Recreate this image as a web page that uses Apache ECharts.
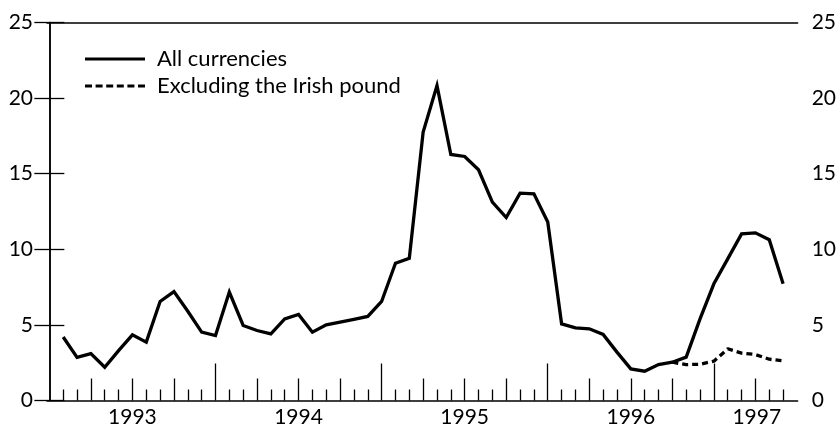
<!DOCTYPE html>
<html>
<head>
<meta charset="utf-8">
<script src="https://cdn.jsdelivr.net/npm/echarts@6/dist/echarts.min.js"></script>
<style>html,body{margin:0;padding:0;background:#fff}#c{width:839px;height:429px}</style>
</head>
<body>
<div id="c"></div>
<script>
// Month index 1 = first monthly observation (early 1993), month 53 = last (mid 1997)
var monthStart = 1;
var allCurrencies = [4.2, 2.85, 3.1, 2.2, 3.3, 4.34, 3.86, 6.55, 7.2, 5.9, 4.52, 4.3,
  7.17, 4.96, 4.63, 4.41, 5.4, 5.69, 4.52, 5.0, 5.18, 5.36, 5.56, 6.55,
  9.08, 9.41, 17.75, 20.83, 16.27, 16.14, 15.26, 13.12, 12.1, 13.71, 13.67, 11.8,
  5.07, 4.81, 4.74, 4.37, 3.2, 2.09, 1.94, 2.38, 2.53, 2.87, 5.4, 7.72,
  9.37, 11.02, 11.09, 10.63, 7.72];
var exclStart = 45;
var excludingIrish = [2.53, 2.37, 2.4, 2.6, 3.42, 3.13, 3.04, 2.73, 2.62];
var yearLabels = ['1993', '1994', '1995', '1996', '1997'];
var yearLabelPositions = [6, 18, 30, 42, 51.1];

function toPairs(start, arr) {
  return arr.map(function (v, i) { return [start + i, v]; });
}
var monthTicks = [], quarterTicks = [], yearTicks = [];
for (var m = 1; m <= 53; m++) {
  if (m % 12 === 0) yearTicks.push(m);
  else if (m % 3 === 0) quarterTicks.push(m);
  else monthTicks.push(m);
}
var FONT = 'Lato';
var XMIN = -0.17, XMAX = 54.05;
function xAx(ticks, len, extra) {
  var a = {
    type: 'value', min: XMIN, max: XMAX, position: 'bottom', gridIndex: 0,
    splitLine: { show: false },
    axisLine: { show: false, onZero: false },
    axisTick: { show: true, inside: true, length: len, customValues: ticks, lineStyle: { color: '#000', width: 1.3 } },
    axisLabel: { show: false }
  };
  if (extra) for (var k in extra) a[k] = extra[k];
  return a;
}
var solidIcon = 'path://M0,0H60V3H0Z';
var dashedIcon = 'path://M0,0H7V3H0Z M10.6,0H17.6V3H10.6Z M21.2,0H28.2V3H21.2Z M31.8,0H38.8V3H31.8Z M42.4,0H49.4V3H42.4Z M53,0H60V3H53Z';
var chart = echarts.init(document.getElementById('c'), null, { renderer: 'canvas' });
chart.setOption({
  animation: false,
  backgroundColor: '#fff',
  grid: { left: 47, right: 40, top: 22.5, bottom: 28.5, show: false },
  legend: {
    orient: 'vertical', left: 85, top: 48, padding: 0, itemWidth: 60, itemHeight: 3, itemGap: 5,
    textStyle: { fontFamily: FONT, fontSize: 22, color: '#000', lineHeight: 16, padding: [0, 0, 6, 7] },
    data: [
      { name: 'All currencies', icon: solidIcon, itemStyle: { color: '#000' } },
      { name: 'Excluding the Irish pound', icon: dashedIcon, itemStyle: { color: '#000' } }
    ]
  },
  xAxis: [
    xAx(monthTicks, 11, {
      axisLine: { show: true, onZero: false, lineStyle: { color: '#000', width: 1.5 } },
      axisLabel: {
        show: true, customValues: yearLabelPositions, margin: 6,
        fontFamily: FONT, fontSize: 21, color: '#000',
        formatter: function (v) { return yearLabels[Math.floor(v / 12)]; }
      }
    }),
    xAx(quarterTicks, 22),
    xAx(yearTicks, 37),
    {
      type: 'value', min: XMIN, max: XMAX, position: 'top', gridIndex: 0,
      splitLine: { show: false },
      axisLine: { show: true, onZero: false, lineStyle: { color: '#000', width: 1.5 } },
      axisTick: { show: false }, axisLabel: { show: false }
    }
  ],
  yAxis: [0, 1].map(function (i) {
    return {
      type: 'value', min: 0, max: 25, interval: 5, position: i === 0 ? 'left' : 'right',
      splitLine: { show: false },
      axisLine: { show: true, lineStyle: { color: '#000', width: 1.5 } },
      axisTick: { show: true, inside: true, length: 15, lineStyle: { color: '#000', width: 1.3 } },
      axisLabel: { fontFamily: FONT, fontSize: 21, color: '#000', margin: 14 }
    };
  }),
  series: [
    {
      name: 'All currencies', type: 'line', xAxisIndex: 0, yAxisIndex: 0,
      data: toPairs(monthStart, allCurrencies), symbol: 'none',
      lineStyle: { color: '#000', width: 3.3, join: 'miter' }, itemStyle: { color: '#000' }
    },
    {
      name: 'Excluding the Irish pound', type: 'line', xAxisIndex: 0, yAxisIndex: 0,
      data: toPairs(exclStart, excludingIrish), symbol: 'none',
      lineStyle: { color: '#000', width: 3.3, type: [6, 4] }, itemStyle: { color: '#000' }
    }
  ]
});
</script>
</body>
</html>
